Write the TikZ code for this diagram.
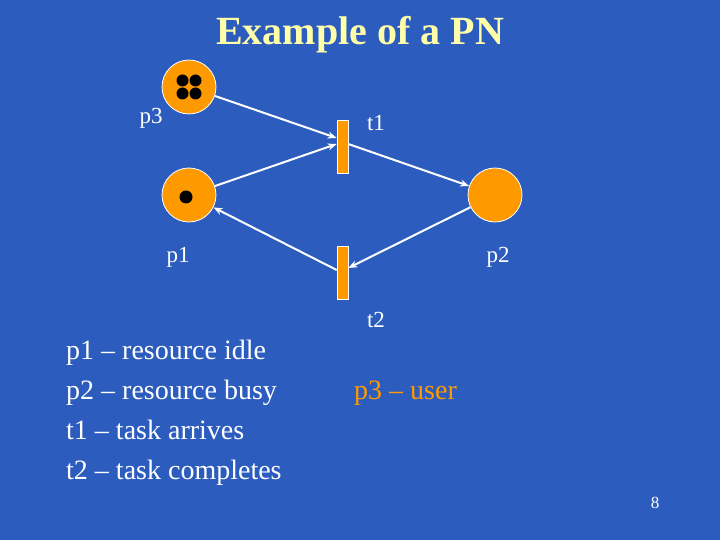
\documentclass[tikz,border=0pt]{standalone}
\usepackage{fontspec}
\setmainfont{Liberation Serif}
\usetikzlibrary{arrows.meta}
\definecolor{bg}{HTML}{2C5DBE}
\definecolor{pn}{HTML}{FF9900}
\definecolor{ttl}{HTML}{FFFFAA}
\begin{document}
\begin{tikzpicture}[x=1pt,y=-1pt,
  place/.style={circle,fill=pn,draw=white,line width=0.8pt,minimum size=54pt,inner sep=0pt},
  trans/.style={rectangle,fill=pn,draw=white,line width=0.6pt,minimum width=11pt,minimum height=53pt,inner sep=0pt},
  tok/.style={circle,fill=black,minimum size=12pt,inner sep=0pt},
  arc/.style={draw=white,line width=2pt,-{Stealth[length=9pt,width=7pt]}},
  lbl/.style={text=white,font=\fontsize{23}{26}\selectfont,inner sep=0pt},
  txt/.style={text=white,font=\fontsize{28}{40}\selectfont,align=left,anchor=base west,inner sep=0pt}]
\fill[bg] (0,0) rectangle (720,540);
\useasboundingbox (0,0) rectangle (720,540);
\node[text=ttl,font=\bfseries\fontsize{40}{44}\selectfont] (title) at (360,35) {Example of a PN};
\node[place] (p3) at (189,87) {};
\node[place] (p1) at (189,195) {};
\node[place] (p2) at (495,195) {};
\node[trans] (t1) at (342.5,147) {};
\node[trans] (t2) at (342.5,273) {};
\foreach \dx/\dy in {-6.5/-6.5,6.5/-6.5,-6.5/6.5,6.5/6.5} \node[tok] at ([shift={(\dx,\dy)}]p3.center) {};
\node[tok,minimum size=13pt] (tk) at (186,197) {};
\node[lbl] (lp3) at (151,118) {p3};
\node[lbl] (lt1) at (376,123) {t1};
\node[lbl] (lp1) at (178,257) {p1};
\node[lbl] (lp2) at (498,257) {p2};
\node[lbl] (lt2) at (376,320) {t2};
\draw[arc] (p3) -- (t1.west |- 0,138);
\draw[arc] (p1) -- (t1.west |- 0,144);
\draw[arc] (t1.east |- 0,144) -- (p2);
\draw[arc] (p2) -- (t2.east |- 0,268);
\draw[arc] (t2.west |- 0,270) -- (p1);
\node[txt] (l1) at (66,359) {p1 – resource idle};
\node[txt] (l2) at (66,399) {p2 – resource busy};
\node[txt] (l3) at (66,439) {t1 – task arrives};
\node[txt] (l4) at (66,479) {t2 – task completes};
\node[txt,text=pn] (user) at (354,399) {p3 – user};
\node[text=white,font=\fontsize{17}{18}\selectfont] (pg) at (655,503) {8};
\end{tikzpicture}
\end{document}
